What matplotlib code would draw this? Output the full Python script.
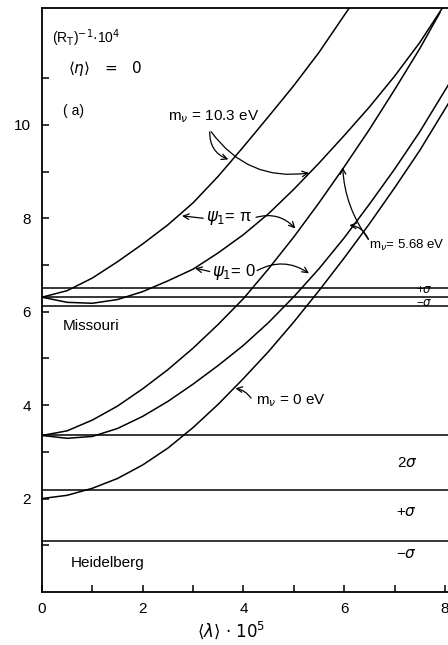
import numpy as np
import matplotlib
matplotlib.use("Agg")
import matplotlib.pyplot as plt
from matplotlib.ticker import FixedLocator

plt.rcParams['font.family'] = ['Liberation Sans', 'DejaVu Sans']
plt.rcParams['mathtext.fontset'] = 'dejavusans'

# horizontal bands
missouri = [6.50, 6.31, 6.12]
heidelberg = [3.35, 2.19, 1.10]

# curves: <lambda>*1e5 vs (R_T)^-1 * 1e4
x_a = [0, 0.5, 1.0, 1.5, 2.0, 2.5, 3.0, 3.5, 4.0, 4.5, 5.0, 5.5, 6.1]
y_a = [6.31, 6.45, 6.72, 7.07, 7.45, 7.86, 8.33, 8.9, 9.53, 10.18, 10.84, 11.55, 12.5]   # m=10.3, psi=pi

x_b = [0, 0.5, 1.0, 1.5, 2.0, 2.5, 3.0, 3.5, 4.0, 4.5, 5.0, 5.5, 6.0, 6.5, 7.0, 7.5, 7.95]
y_b = [6.31, 6.2, 6.18, 6.26, 6.43, 6.66, 6.91, 7.26, 7.65, 8.1, 8.62, 9.18, 9.77, 10.38, 11.04, 11.76, 12.5]  # m=10.3, psi=0

x_c = [0, 0.5, 1.0, 1.5, 2.0, 2.5, 3.0, 3.5, 4.0, 4.5, 5.0, 5.5, 6.0, 6.5, 7.0, 7.5, 7.9]
y_c = [3.35, 3.45, 3.68, 3.98, 4.35, 4.76, 5.22, 5.73, 6.28, 6.92, 7.6, 8.33, 9.1, 9.9, 10.75, 11.63, 12.4]  # m=5.68, psi=pi

x_d = [0, 0.5, 1.0, 1.5, 2.0, 2.5, 3.0, 3.5, 4.0, 4.5, 5.0, 5.5, 6.0, 6.5, 7.0, 7.5, 8.15]
y_d = [3.35, 3.29, 3.33, 3.5, 3.76, 4.08, 4.45, 4.85, 5.28, 5.77, 6.32, 6.92, 7.58, 8.3, 9.05, 9.85, 11.0]  # m=5.68, psi=0

x_e = [0, 0.5, 1.0, 1.5, 2.0, 2.5, 3.0, 3.5, 4.0, 4.5, 5.0, 5.5, 6.0, 6.5, 7.0, 7.5, 8.15]
y_e = [2.0, 2.07, 2.22, 2.43, 2.72, 3.08, 3.52, 4.02, 4.57, 5.15, 5.78, 6.45, 7.15, 7.88, 8.65, 9.45, 10.6]  # m=0

fig = plt.figure(figsize=(4.48, 6.45), dpi=100)
ax = fig.add_axes([42 / 448, 1 - 592 / 645, 1 - 42 / 448 + 0.01, (592 - 8) / 645])
ax.set_xlim(0, 8.15)
ax.set_ylim(0, 12.5)

for y in missouri + heidelberg:
    ax.axhline(y, color='k', lw=1.1)

for xs, ys in [(x_a, y_a), (x_b, y_b), (x_c, y_c), (x_d, y_d), (x_e, y_e)]:
    ax.plot(xs, ys, color='k', lw=1.1)

ax.spines['right'].set_visible(False)
for s in ['left', 'bottom', 'top']:
    ax.spines[s].set_linewidth(1.3)

ax.xaxis.set_major_locator(FixedLocator([0, 2, 4, 6, 8]))
ax.xaxis.set_minor_locator(FixedLocator([1, 3, 5, 7]))
ax.yaxis.set_major_locator(FixedLocator([2, 4, 6, 8, 10]))
ax.yaxis.set_minor_locator(FixedLocator([1, 3, 5, 7, 9, 11]))
ax.tick_params(which='both', direction='in', length=5, width=1.1, labelsize=11, top=False, right=False)
ax.tick_params(axis='x', pad=7)
ax.tick_params(axis='y', pad=8)

ax.set_xlabel('⟨$\\lambda$⟩ · 10$^5$', fontsize=12, family=['DejaVu Sans'])
ax.xaxis.set_label_coords(0.46, -0.048)

def txt(x, y, s, size=11, **kw):
    ax.text(x, y, s, fontsize=size, va='center', ha='left', **kw)

txt(0.2, 11.85, '(R$_\\mathrm{T}$)$^{-1}$·10$^4$', size=10)
txt(0.52, 11.2, '⟨$\\eta$⟩   =   0', size=11, family=['DejaVu Sans'])
txt(0.42, 10.3, '( a)', size=10)
txt(2.5, 10.18, 'm$_\\nu$ = 10.3 eV')
txt(3.25, 8.0, '$\\psi_1$= π', size=12)
txt(3.38, 6.86, '$\\psi_1$= 0', size=12)
txt(6.5, 7.42, 'm$_\\nu$= 5.68 eV', size=9.5)
txt(0.42, 5.7, 'Missouri')
txt(4.24, 4.1, 'm$_\\nu$ = 0 eV')
txt(0.58, 0.62, 'Heidelberg')
txt(7.05, 2.77, '2$\\sigma$')
txt(7.02, 1.72, '+$\\sigma$')
txt(7.02, 0.82, '−$\\sigma$')
txt(7.42, 6.46, '+$\\sigma$', size=8.5)
txt(7.42, 6.18, '−$\\sigma$', size=8.5)

def arrow(start, end, rad):
    ax.annotate('', xy=end, xytext=start,
                arrowprops=dict(arrowstyle='->', lw=0.9, color='k', shrinkA=0, shrinkB=0,
                                connectionstyle='arc3,rad=%s' % rad))

arrow((3.33, 9.85), (3.7, 9.26), 0.35)
arrow((3.36, 9.85), (5.3, 8.97), 0.3)
arrow((3.2, 8.0), (2.78, 8.05), 0.0)
arrow((4.25, 8.02), (5.03, 7.78), -0.3)
arrow((3.33, 6.86), (3.04, 6.93), 0.0)
arrow((4.27, 6.88), (5.3, 6.82), -0.3)
arrow((6.48, 7.55), (5.97, 9.09), -0.15)
arrow((6.48, 7.55), (6.1, 7.85), 0.3)
arrow((4.15, 4.15), (3.84, 4.36), 0.2)

fig.savefig('out.png', dpi=100)
